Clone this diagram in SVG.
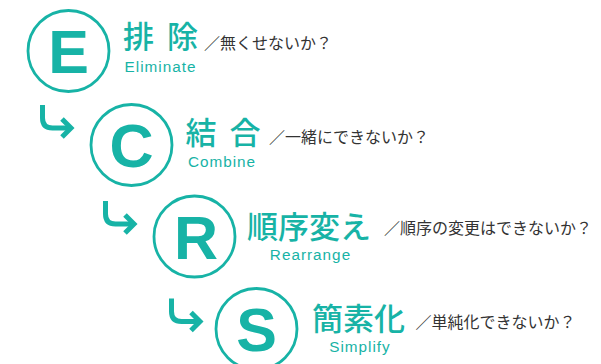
<svg xmlns="http://www.w3.org/2000/svg" width="601" height="364" viewBox="0 0 601 364">
  <defs>
    <style>
      .ring { fill: none; stroke: #17b3a6; stroke-width: 2.8; }
      .letter { font-family: "Liberation Sans", Arial, sans-serif; font-weight: 700; font-size: 61px; fill: #17b3a6; text-anchor: middle; }
      .head { font-family: "Noto Sans CJK JP", sans-serif; font-weight: 500; font-size: 31px; fill: #17b3a6; }
      .en { font-family: "Liberation Sans", Arial, sans-serif; font-size: 15.3px; letter-spacing: 1px; fill: #17b3a6; text-anchor: middle; }
      .note { font-family: "Noto Sans CJK JP", sans-serif; font-size: 16px; fill: #333333; }
      .arrow { fill: none; stroke: #17b3a6; stroke-width: 5; stroke-linejoin: miter; }
    </style>
    <g id="arr">
      <path class="arrow" d="M0,0 V13 Q0,23 10,23 H28"/>
      <path class="arrow" d="M19.5,14 L28.5,23 L19.5,32"/>
    </g>
  </defs>
  <rect width="601" height="364" fill="#ffffff"/>

  <g id="connectors">
    <use href="#arr" x="42.5" y="105"/>
    <use href="#arr" x="105.5" y="201"/>
    <use href="#arr" x="171.5" y="298.5"/>
  </g>

  <g id="node-E">
    <circle class="ring" cx="68.5" cy="51" r="40.5"/>
    <text class="letter" x="68.5" y="73">E</text>
    <text class="head" x="123" y="48" letter-spacing="13">排除</text>
    <text class="en" x="160.5" y="71.7">Eliminate</text>
    <text class="note" x="204" y="49">／無くせないか？</text>
  </g>

  <g id="node-C">
    <circle class="ring" cx="131.5" cy="145" r="40.5"/>
    <text class="letter" x="131.5" y="167">C</text>
    <text class="head" x="185.5" y="144" letter-spacing="13">結合</text>
    <text class="en" x="222" y="166.7">Combine</text>
    <text class="note" x="269" y="143">／一緒にできないか？</text>
  </g>

  <g id="node-R">
    <circle class="ring" cx="194.5" cy="236.5" r="40.5"/>
    <text class="letter" x="196" y="258.5">R</text>
    <text class="head" x="247" y="237.5">順序変え</text>
    <text class="en" x="310.5" y="259.5">Rearrange</text>
    <text class="note" x="384" y="233.5">／順序の変更はできないか？</text>
  </g>

  <g id="node-S">
    <circle class="ring" cx="256.5" cy="329" r="40.5"/>
    <text class="letter" x="256.5" y="351">S</text>
    <text class="head" x="312" y="330">簡素化</text>
    <text class="en" x="360" y="351.7">Simplify</text>
    <text class="note" x="415.5" y="327.5">／単純化できないか？</text>
  </g>
</svg>
